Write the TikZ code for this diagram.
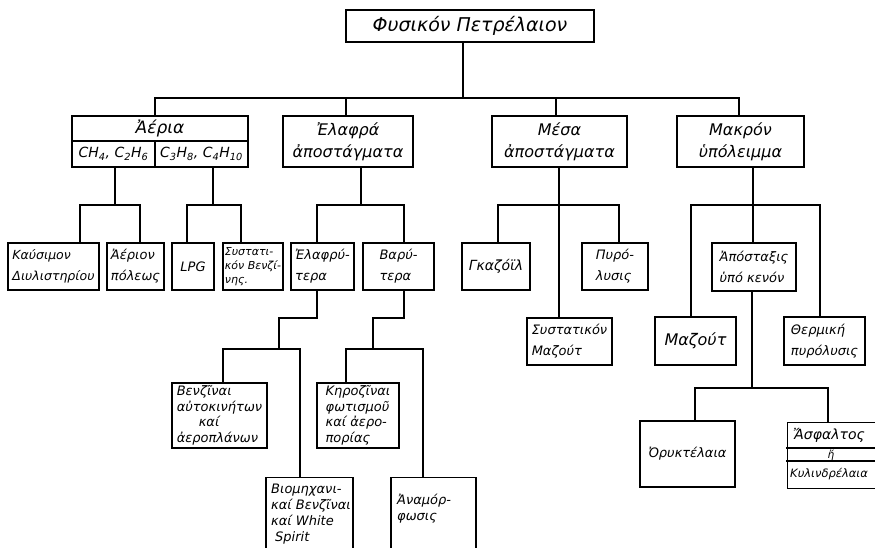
\documentclass[tikz,border=0pt]{standalone}
\usepackage{fontspec}
\setmainfont{DejaVu Sans}
\begin{document}
\begin{tikzpicture}[x=1pt,y=-1pt]
\tikzset{
  bx/.style={draw, line width=1.2pt, inner sep=1.5pt, align=left, font=\itshape\fontsize{13}{21}\selectfont},
  bxc/.style={bx, align=center, font=\itshape\fontsize{16}{22}\selectfont},
  dense/.style={font=\itshape\fontsize{13}{15.5}\selectfont},
  txt/.style={inner sep=0pt, align=left, font=\itshape\fontsize{13}{16}\selectfont},
  ln/.style={line width=1.2pt, line cap=rect, line join=miter},
}
\useasboundingbox (0,0) rectangle (875,548);
\fill[white] (0,0) rectangle (875,548);
\clip (0,0) rectangle (875,548);

% ---------- level 0 ----------
\node[bx, minimum width=248, minimum height=32, font=\itshape\fontsize{19}{22}\selectfont] (root) at (470,26) {Φυσικόν Πετρέλαιον};

% ---------- level 1 ----------
\node[bxc, minimum width=176, minimum height=25, inner sep=0pt, font=\itshape\fontsize{17}{20}\selectfont] (aeria) at (160,128.5) {Ἀέρια};
\node[bx, minimum width=83, minimum height=26, inner sep=0pt, font=\itshape\fontsize{14}{15}\selectfont] (ch4) at (113.5,154) {CH\textsubscript{4}, C\textsubscript{2}H\textsubscript{6}};
\node[bx, minimum width=93, minimum height=26, inner sep=0pt, font=\itshape\fontsize{14}{15}\selectfont] (c3) at (201.5,154) {C\textsubscript{3}H\textsubscript{8}, C\textsubscript{4}H\textsubscript{10}};
\node[bxc, minimum width=130, minimum height=51] (elafra) at (348,141.5) {Ἐλαφρά\\ἀποστάγματα};
\node[bxc, minimum width=135, minimum height=51] (mesa) at (559.5,141.5) {Μέσα\\ἀποστάγματα};
\node[bxc, minimum width=127, minimum height=51] (makron) at (740.5,141.5) {Μακρόν\\ὑπόλειμμα};

% ---------- level 2 ----------
\node[bx, minimum width=91, minimum height=47, font=\itshape\fontsize{12.5}{21}\selectfont] (kays) at (53.5,266.5) {Καύσιμον\\Διυλιστηρίου};
\node[bx, minimum width=57, minimum height=47] (aerion) at (135.5,266.5) {Ἀέριον\\πόλεως};
\node[bx, minimum width=42, minimum height=47] (lpg) at (193,266.5) {LPG};
\node[bx, minimum width=60, minimum height=47, inner sep=0.5pt, font=\itshape\fontsize{11}{14}\selectfont] (systat) at (253,266.5) {Συστατι-\\κόν Βενζί-\\νης.};
\node[bx, minimum width=63, minimum height=47] (elafryt) at (322.5,266.5) {Ἐλαφρύ-\\τερα};
\node[bx, minimum width=71, minimum height=47] (varyt) at (398.5,266.5) {Βαρύ-\\τερα};
\node[bx, minimum width=68, minimum height=47, font=\itshape\fontsize{14}{20}\selectfont] (gkaz) at (496,266.5) {Γκαζόϊλ};
\node[bx, minimum width=66, minimum height=47] (pyrol) at (615,266.5) {Πυρό-\\λυσις};
\node[bx, minimum width=85, minimum height=47] (systmaz) at (569.5,341.5) {Συστατικόν\\Μαζούτ};
\node[bx, minimum width=84, minimum height=48] (apost) at (754,267) {Ἀπόσταξις\\ὑπό κενόν};
\node[bx, minimum width=81, minimum height=48, font=\itshape\fontsize{16}{20}\selectfont] (mazout) at (695.5,341) {Μαζούτ};
\node[bx, minimum width=81, minimum height=48] (therm) at (824.5,341) {Θερμική\\πυρόλυσις};

% ---------- level 3 ----------
\node[bx, dense, minimum width=95, minimum height=65] (benz) at (219.5,415.5) {Βενζῖναι\\αὐτοκινήτων\\\hspace*{22pt}καί\\ἀεροπλάνων};
\node[bx, dense, minimum width=82, minimum height=65] (keroz) at (358,415.5) {Κηροζῖναι\\φωτισμοῦ\\καί ἀερο-\\πορίας};
\node[bx, anchor=north, minimum width=87, minimum height=100] (biom) at (309.5,477) {};
\node[txt, anchor=north west] (biomt) at (271,484) {Βιομηχανι-\\καί Βενζῖναι\\καί White\\\hspace*{4pt}Spirit};
\node[bx, anchor=north, minimum width=85, minimum height=100] (anam) at (433.5,477) {};
\node[txt, anchor=north west] (anamt) at (397,494) {Ἀναμόρ-\\φωσις};
\node[bx, minimum width=95, minimum height=66] (oryk) at (687.5,454) {Ὀρυκτέλαια};
\node[bx, anchor=north west, minimum width=120, minimum height=66] (asph) at (787,422) {};
\draw[ln] ([yshift=-26pt]asph.north west) -- ([yshift=-26pt]asph.north east);
\draw[ln] ([yshift=-39pt]asph.north west) -- ([yshift=-39pt]asph.north east);
\node[txt, anchor=west, font=\itshape\fontsize{14}{16}\selectfont] (asph1) at (793,435) {Ἄσφαλτος};
\node[txt, font=\itshape\fontsize{10.5}{10}\selectfont] (asph2) at (831,455) {ἤ};
\node[txt, anchor=west, font=\itshape\fontsize{11.5}{14}\selectfont] (asph3) at (790,474.5) {Κυλινδρέλαια};

% ---------- connectors ----------
\coordinate (r1) at (463,98);
\coordinate (a1) at (155,98);
\coordinate (a2) at (346,98);
\coordinate (a3) at (556,98);
\coordinate (a4) at (739,98);
\draw[ln] (root.south -| r1) -- (r1);
\draw[ln] (a1) -- (a4);
\draw[ln] (a1) -- (aeria.north -| a1);
\draw[ln] (a2) -- (elafra.north -| a2);
\draw[ln] (a3) -- (mesa.north -| a3);
\draw[ln] (a4) -- (makron.north -| a4);

% Aeria group
\coordinate (g1) at (115,205);
\coordinate (g1a) at (80,205);
\coordinate (g1b) at (140,205);
\draw[ln] (ch4.south -| g1) -- (g1);
\draw[ln] (kays.north -| g1a) -- (g1a) -- (g1b) -- (aerion.north -| g1b);
\coordinate (g2) at (213,205);
\coordinate (g2a) at (187,205);
\coordinate (g2b) at (241,205);
\draw[ln] (c3.south -| g2) -- (g2);
\draw[ln] (lpg.north -| g2a) -- (g2a) -- (g2b) -- (systat.north -| g2b);

% Elafra group
\coordinate (g3) at (361,205);
\coordinate (g3a) at (317,205);
\coordinate (g3b) at (404,205);
\draw[ln] (elafra.south -| g3) -- (g3);
\draw[ln] (elafryt.north -| g3a) -- (g3a) -- (g3b) -- (varyt.north -| g3b);
\coordinate (e1) at (317,318);
\coordinate (e2) at (279,318);
\coordinate (e3) at (279,349);
\coordinate (e3a) at (223,349);
\coordinate (e3b) at (300,349);
\draw[ln] (elafryt.south -| e1) -- (e1) -- (e2) -- (e3);
\draw[ln] (benz.north -| e3a) -- (e3a) -- (e3b) -- (biom.north -| e3b);
\coordinate (v1) at (404,318);
\coordinate (v2) at (373,318);
\coordinate (v3) at (373,349);
\coordinate (v3a) at (346,349);
\coordinate (v3b) at (423,349);
\draw[ln] (varyt.south -| v1) -- (v1) -- (v2) -- (v3);
\draw[ln] (keroz.north -| v3a) -- (v3a) -- (v3b) -- (anam.north -| v3b);

% Mesa group
\coordinate (g4) at (559,205);
\coordinate (g4a) at (498,205);
\coordinate (g4b) at (619,205);
\draw[ln] (mesa.south -| g4) -- (systmaz.north -| g4);
\draw[ln] (gkaz.north -| g4a) -- (g4a) -- (g4b) -- (pyrol.north -| g4b);

% Makron group
\coordinate (g5) at (753,205);
\coordinate (g5a) at (691,205);
\coordinate (g5b) at (820,205);
\draw[ln] (makron.south -| g5) -- (apost.north -| g5);
\draw[ln] (mazout.north -| g5a) -- (g5a) -- (g5b) -- (therm.north -| g5b);
\coordinate (g6) at (752,388);
\coordinate (g6a) at (695,388);
\coordinate (g6b) at (828,388);
\draw[ln] (apost.south -| g6) -- (g6);
\draw[ln] (oryk.north -| g6a) -- (g6a) -- (g6b) -- (asph.north -| g6b);
\end{tikzpicture}
\end{document}
